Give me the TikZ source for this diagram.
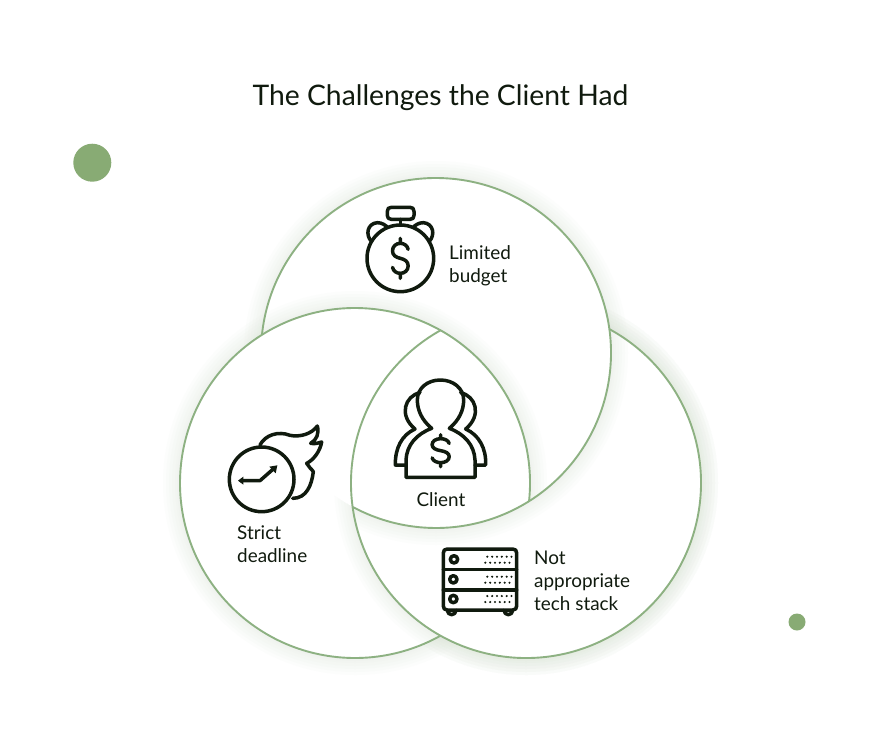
\documentclass[tikz,border=0pt]{standalone}
\usepackage{fontspec}
\setmainfont{Lato}
\definecolor{ring}{HTML}{8DB182}
\definecolor{dotc}{HTML}{88AB74}
\definecolor{glowc}{HTML}{DCE6D8}
\definecolor{ink}{HTML}{101A0E}
\definecolor{txt}{HTML}{101A0E}
\tikzset{
  ringline/.style={draw=ring,line width=1.9pt},
  iconline/.style={draw=ink,line width=3.5pt,line cap=round,line join=round},
  label/.style={text=txt,align=left,inner sep=0pt,font=\fontsize{18.9}{22.9}\selectfont},
  zoomed/.style={x=.33333pt,y=-.33333pt},
}
\newcommand{\glowring}[2]{%
  \foreach \w in {34,28,22,16,10,6}{%
    \draw[glowc,opacity=.07,line width=\w pt] (#1,#2) circle[radius=175];}%
}
\newcommand{\dollarsign}{%
  (9,-9) .. controls (8,-13) and (4,-15) .. (0,-15)
  .. controls (-5,-15) and (-9,-12) .. (-9,-7.5)
  .. controls (-9,-3) and (-5,-1) .. (0,0)
  .. controls (5,1) and (9,3) .. (9,7.5)
  .. controls (9,12) and (5,15) .. (0,15)
  .. controls (-4,15) and (-8,13) .. (-9,9)
  (0,-15) -- (0,-20) (0,15) -- (0,20)}
\begin{document}
\begin{tikzpicture}[x=1pt,y=-1pt]
\useasboundingbox (0,0) rectangle (880,729);
\fill[white] (0,0) rectangle (880,729);
% overlapping rings, painted in turn so each lies over the next
\glowring{526}{483}\fill[white] (526,483) circle[radius=175];
\glowring{436}{353}\fill[white] (436,353) circle[radius=175];
\glowring{355}{483}\fill[white] (355,483) circle[radius=175];
\begin{scope}[even odd rule]
  \clip (0,0) rectangle (880,729) (436,353) circle[radius=175];
  \glowring{526}{483}\fill[white] (526,483) circle[radius=175];
  \begin{scope}
    \clip (526,483) circle[radius=175];
    \glowring{436}{353}
  \end{scope}
\end{scope}
\draw[ringline] ([shift={(-174.1:175)}]436,353) arc[start angle=-174.1,end angle=118.3,radius=175];
\draw[ringline] ([shift={(5.9:175)}]355,483) arc[start angle=5.9,end angle=-299.2,radius=175];
\draw[ringline] ([shift={(-119.2:175)}]526,483) arc[start angle=-119.2,end angle=-421.6,radius=175];
% dots
\fill[dotc] (92.3,162.7) circle[radius=19];
\fill[dotc] (797,622) circle[radius=8.5];
% title
\node[text=txt,inner sep=0pt,font=\fontsize{28.3}{32}\selectfont] (title) at (440.5,98) {The Challenges the Client Had};
% stopwatch
\begin{scope}[shift={(340,190)},zoomed]
  \draw[iconline] (181,205) circle[radius=100];
  \draw[iconline] (142,64) .. controls (142,56) and (146,52) .. (154,52) -- (210,52) .. controls (218,52) and (222,56) .. (222,64) -- (222,76) .. controls (222,84) and (218,88) .. (210,88) -- (154,88) .. controls (146,88) and (142,84) .. (142,76) -- cycle;
  \draw[iconline] (181,88) -- (181,105);
  \draw[iconline] (95,155) .. controls (75,135) and (82,100) .. (112,98) .. controls (125,98) and (137,105) .. (143,113);
  \draw[iconline] (267,155) .. controls (287,135) and (280,100) .. (250,98) .. controls (237,98) and (225,105) .. (219,113);
  \begin{scope}[shift={(181,205)},x=.87pt,y=-1pt]
    \draw[iconline] \dollarsign;
  \end{scope}
\end{scope}
\node[label,anchor=west] (budget) at (449,265.5) {Limited\\budget};
% client
\begin{scope}[shift={(370,360)},zoomed]
  \draw[iconline] (150,98) .. controls (105,108) and (85,165) .. (135,207) .. controls (95,225) and (75,265) .. (76,315) -- (108,315);
  \draw[iconline] (272,98) .. controls (317,108) and (337,165) .. (287,207) .. controls (327,225) and (349,265) .. (347,315) -- (315,315);
  \draw[iconline] (108,352) -- (108,300) .. controls (110,255) and (140,222) .. (185,205) .. controls (155,180) and (142,150) .. (142,120) .. controls (142,85) and (172,60) .. (211,60) .. controls (250,60) and (281,85) .. (281,120) .. controls (281,150) and (268,180) .. (238,205) .. controls (283,222) and (313,255) .. (315,300) -- (315,352) -- cycle;
  \begin{scope}[shift={(212,272)},x=.95pt,y=-.8pt]
    \draw[iconline] \dollarsign;
  \end{scope}
\end{scope}
\node[label,anchor=center] (client) at (441,499.5) {Client};
% deadline
\begin{scope}[shift={(210,410)},zoomed]
  \draw[iconline] (155,208) circle[radius=97];
  \draw[iconline] (150,105) .. controls (165,75) and (205,62) .. (240,76) .. controls (270,82) and (305,72) .. (322,48) .. controls (328,70) and (320,90) .. (302,100) .. controls (315,102) and (325,100) .. (335,96) .. controls (330,125) and (310,150) .. (290,160) .. controls (295,170) and (303,175) .. (310,185) .. controls (305,225) and (290,265) .. (248,265);
  \draw[iconline] (92,212) -- (150,212) -- (192,175);
  \fill[ink] (84,212) -- (100,200) -- (100,224) -- cycle;
  \fill[ink] (202,166) -- (178,170) -- (197,190) -- cycle;
\end{scope}
\node[label,anchor=north west] (deadline) at (237,525.5) {Strict\\deadline};
% server
\begin{scope}[shift={(430,535)},zoomed]
  \draw[iconline] (52,42) -- (248,42) .. controls (256,42) and (260,46) .. (260,54) -- (260,213) .. controls (260,221) and (256,225) .. (248,225) -- (52,225) .. controls (44,225) and (40,221) .. (40,213) -- (40,54) .. controls (40,46) and (44,42) .. (52,42) -- cycle;
  \draw[iconline] (40,103) -- (260,103) (40,165) -- (260,165);
  \draw[iconline] (72,73) circle[radius=11];
  \draw[iconline] (70,133) circle[radius=11];
  \draw[iconline] (70,192) circle[radius=11];
  \draw[iconline] (52,226) arc[start angle=180,end angle=0,radius=13] ;
  \draw[iconline] (222,226) arc[start angle=180,end angle=0,radius=13];
  \foreach \yy in {0,60,118}{
    \foreach \xx in {0,1,2,3,4,5}{
      \fill[ink] (172+14.5*\xx,65+\yy) circle[radius=3.5];
      \fill[ink] (166+14.5*\xx,83+\yy) circle[radius=3.5];
    }
  }
\end{scope}
\node[label,anchor=north west] (stack) at (534,551) {Not\\appropriate\\tech stack};
\end{tikzpicture}
\end{document}
